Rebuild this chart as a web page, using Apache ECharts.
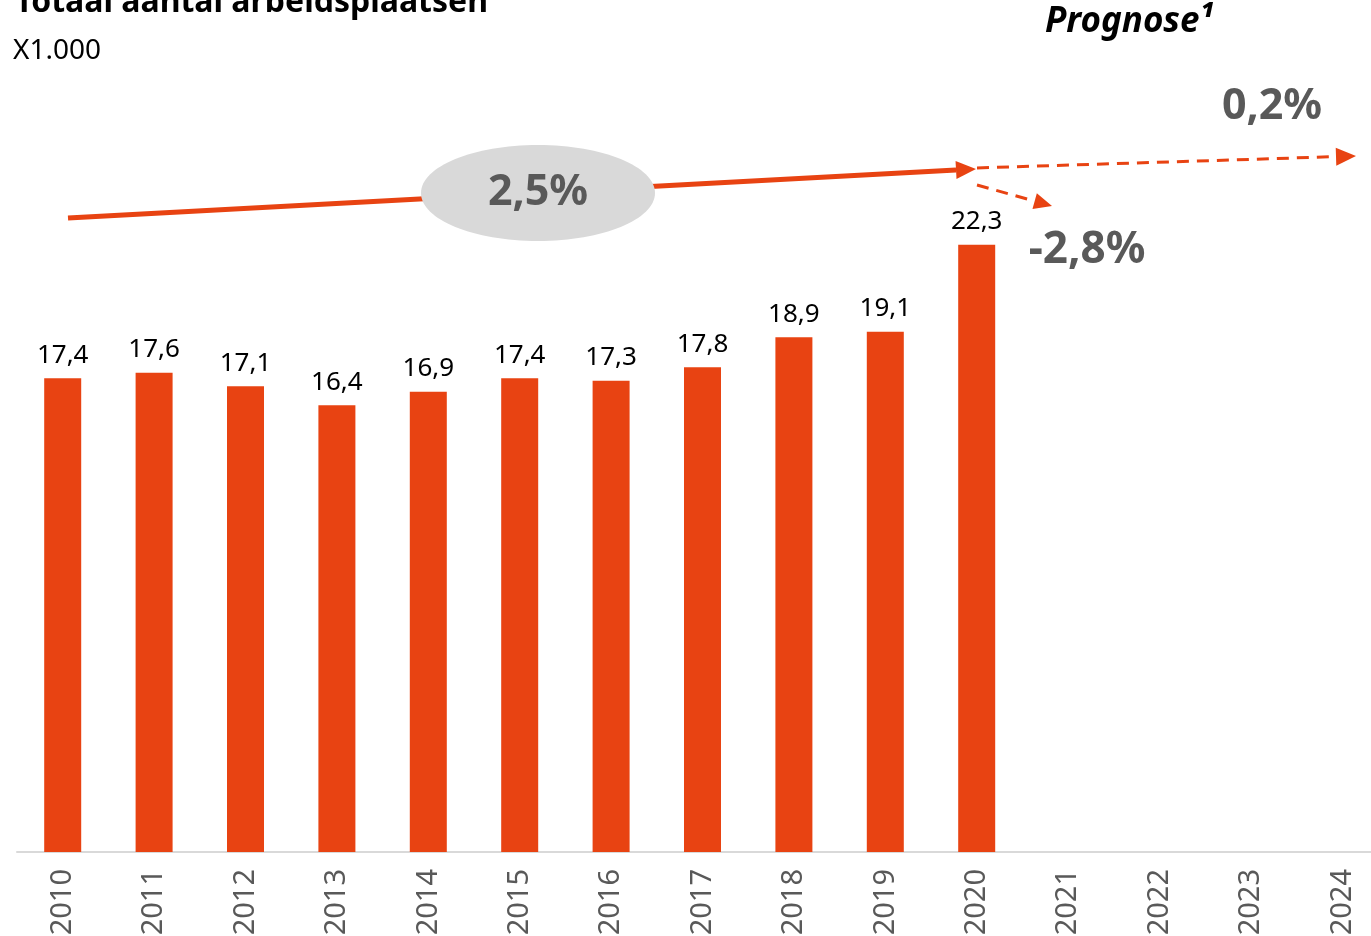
<!DOCTYPE html>
<html>
<head>
<meta charset="utf-8">
<script src="https://cdn.jsdelivr.net/npm/echarts@6/dist/echarts.min.js"></script>
<style>
  html, body { margin: 0; padding: 0; background: #fff; }
  #main { width: 1371px; height: 936px; }
</style>
</head>
<body>
<div id="main"></div>
<script>
// jaren en aantal arbeidsplaatsen (x1.000)
var years = ['2010', '2011', '2012', '2013', '2014', '2015', '2016', '2017', '2018', '2019', '2020', '2021', '2022', '2023', '2024'];
var jobs = [17.4, 17.6, 17.1, 16.4, 16.9, 17.4, 17.3, 17.8, 18.9, 19.1, 22.3, null, null, null, null];

var oranje = '#e84312';
var grijs = '#595959';
var font = 'Noto Sans';

// pijl: lijn + driehoek aan het eind
function arrow(x1, y1, x2, y2, width, dashed, head) {
    var dx = x2 - x1, dy = y2 - y1;
    var len = Math.sqrt(dx * dx + dy * dy);
    var ux = dx / len, uy = dy / len;
    var bx = x2 - ux * head, by = y2 - uy * head;
    var hw = head * 0.45;
    return [{
        type: 'line',
        shape: { x1: x1, y1: y1, x2: bx, y2: by },
        style: { stroke: oranje, lineWidth: width, lineDash: dashed ? [12, 8] : null }
    }, {
        type: 'polygon',
        shape: { points: [[x2, y2], [bx - uy * hw, by + ux * hw], [bx + uy * hw, by - ux * hw]] },
        style: { fill: oranje }
    }];
}

var graphics = [
    { type: 'text', left: 15, top: -13, style: { text: 'Totaal aantal arbeidsplaatsen', font: 'bold 32px "Noto Sans"', fill: '#000' } },
    { type: 'text', x: 13, y: 51, style: { text: 'X1.000', font: '28px "Noto Sans"', fill: '#000', verticalAlign: 'middle' } },
    { type: 'text', x: 1045, y: 22, style: { text: 'Prognose¹', font: 'italic bold 35px "Noto Sans"', fill: '#000', verticalAlign: 'middle' } }
];
graphics = graphics
    .concat(arrow(68, 218, 976, 169, 5, false, 20))
    .concat(arrow(977, 168, 1356, 156, 3, true, 20))
    .concat(arrow(977, 185, 1052, 206, 3, true, 18));
graphics.push(
    { type: 'ellipse', shape: { cx: 538, cy: 193, rx: 117, ry: 48 }, style: { fill: '#d9d9d9' } },
    { type: 'text', x: 538, y: 193, style: { text: '2,5%', font: 'bold 43px "Noto Sans"', fill: grijs, align: 'center', verticalAlign: 'middle' } },
    { type: 'text', x: 1272, y: 107, style: { text: '0,2%', font: 'bold 43px "Noto Sans"', fill: grijs, align: 'center', verticalAlign: 'middle' } },
    { type: 'text', x: 1087, y: 250, style: { text: '-2,8%', font: 'bold 44px "Noto Sans"', fill: grijs, align: 'center', verticalAlign: 'middle' } }
);

var chart = echarts.init(document.getElementById('main'));
var option = {
    animation: false,
    grid: { left: 17, top: 35, width: 1371, height: 817, containLabel: false, outerBoundsMode: 'none' },
    xAxis: {
        type: 'category',
        data: years,
        axisLine: { lineStyle: { color: '#d9d9d9', width: 2 } },
        axisTick: { show: false },
        axisLabel: { rotate: 90, margin: 17, color: grijs, fontSize: 29, fontFamily: font, interval: 0 }
    },
    yAxis: {
        type: 'value',
        min: 0,
        max: 30,
        show: false,
        splitLine: { show: false }
    },
    series: [{
        type: 'bar',
        data: jobs,
        barWidth: 37,
        itemStyle: { color: oranje },
        label: {
            show: true,
            position: 'top',
            distance: 10,
            color: '#000',
            fontSize: 26,
            fontFamily: font,
            formatter: function (p) {
                return p.value == null ? '' : String(p.value).replace('.', ',');
            }
        }
    }],
    graphic: graphics
};
chart.setOption(option);
</script>
</body>
</html>
